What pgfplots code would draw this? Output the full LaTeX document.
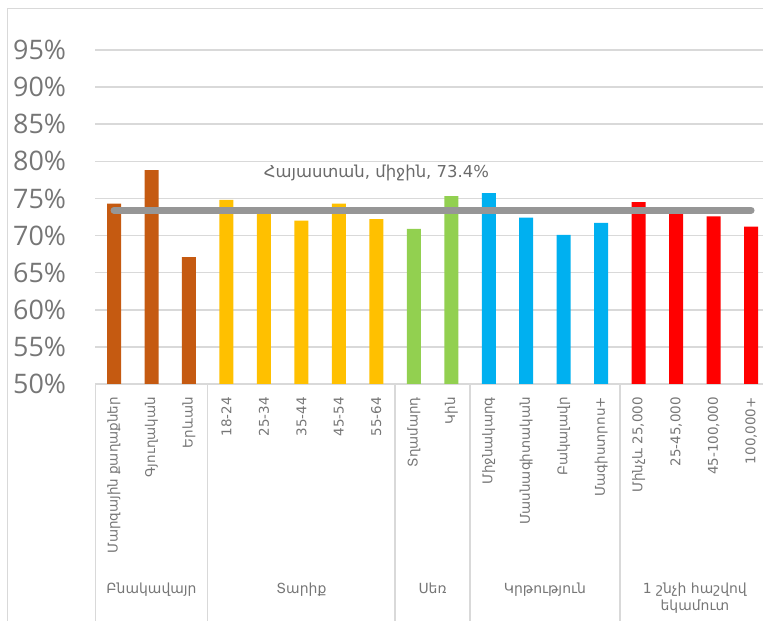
\documentclass[border=0pt]{standalone}
\usepackage{pgfplots}
\pgfplotsset{compat=1.18}
\usepackage{fontspec}
\setmainfont{DejaVu Sans}
\newfontfamily\numfont{Open Sans}

\definecolor{txtgray}{HTML}{767676}
\definecolor{lblgray}{HTML}{6A6A6A}
\definecolor{gridgray}{HTML}{D9D9D9}
\definecolor{avggray}{HTML}{969696}
\definecolor{cbrown}{HTML}{C55A11}
\definecolor{cyellow}{HTML}{FFC000}
\definecolor{cgreen}{HTML}{92D050}
\definecolor{cblue}{HTML}{00B0F0}
\definecolor{cred}{HTML}{FF0000}

\begin{document}
\begin{tikzpicture}
\path[use as bounding box] (0,0) rectangle (763bp,621bp);
% chart frame
\draw[gridgray, line width=1bp] (7bp,-10bp) -- (7bp,612bp) -- (790bp,612bp);
\begin{axis}[
  at={(95.3bp,237bp)}, anchor=south west,
  scale only axis, width=674.5bp, height=334bp,
  xmin=-0.5, xmax=17.5, ymin=50, ymax=95,
  clip mode=individual,
  axis x line*=bottom, axis y line*=left,
  x axis line style={draw=gridgray, line width=1.5bp, -},
  y axis line style={draw=none},
  major tick length=0pt,
  ymajorgrids, grid style={gridgray, line width=1.5bp},
  ytick={50,55,...,95},
  /pgf/number format/assume math mode=true,
  yticklabel={\pgfmathprintnumber{\tick}\%},
  yticklabel style={font=\numfont\fontsize{27}{27}\selectfont, text=txtgray,
    anchor=east, inner sep=0pt, xshift=-29bp},
  xtick={0,...,17},
  xticklabels={Մարզային քաղաքներ, Գյուղական, Երևան, 18-24, 25-34, 35-44, 45-54, 55-64,
    Տղամարդ, Կին, Միջնակարգ, Մասնագիտական, Բակալավր, Մագիստրոս+,
    {Մինչև 25,000}, {25-45,000}, {45-100,000}, {100,000+}},
  xticklabel style={yshift=-13bp, rotate=90, anchor=east, inner sep=0pt,
    font=\fontsize{13.5}{13.5}\selectfont, text=txtgray},
]
% Բնակավայր
\addplot[ybar, bar width=14bp, bar shift=0pt, fill=cbrown, draw=none]
  coordinates {(0,74.3) (1,78.8) (2,67.1)};
% Տարիք
\addplot[ybar, bar width=14bp, bar shift=0pt, fill=cyellow, draw=none]
  coordinates {(3,74.8) (4,73.3) (5,72.0) (6,74.3) (7,72.2)};
% Սեռ
\addplot[ybar, bar width=14bp, bar shift=0pt, fill=cgreen, draw=none]
  coordinates {(8,70.9) (9,75.3)};
% Կրթություն
\addplot[ybar, bar width=14bp, bar shift=0pt, fill=cblue, draw=none]
  coordinates {(10,75.7) (11,72.4) (12,70.1) (13,71.7)};
% 1 շնչի հաշվով եկամուտ
\addplot[ybar, bar width=14bp, bar shift=0pt, fill=cred, draw=none]
  coordinates {(14,74.5) (15,73.5) (16,72.6) (17,71.2)};
% national average
\addplot[avggray, line width=7bp, line cap=round, mark=none]
  coordinates {(0,73.4) (17,73.4)};
\node[text=lblgray, font=\fontsize{16.5}{16.5}\selectfont] at (axis cs:7,78.4)
  {Հայաստան, միջին, 73.4\%};
% group separators below the axis
\foreach \s in {-0.5,2.5,7.5,9.5,13.5}{
  \edef\tmp{\noexpand\draw[gridgray, line width=1.5bp] (axis cs:\s,50) -- ([yshift=-245bp]axis cs:\s,50);}
  \tmp
}
% group names
\begin{scope}[every node/.style={text=txtgray, font=\fontsize{14}{17}\selectfont,
    anchor=north, align=center}]
\node at ([yshift=-195bp]axis cs:1,50) {Բնակավայր};
\node at ([yshift=-195bp]axis cs:5,50) {Տարիք};
\node at ([yshift=-195bp]axis cs:8.5,50) {Սեռ};
\node at ([yshift=-195bp]axis cs:11.5,50) {Կրթություն};
\node at ([yshift=-195bp]axis cs:15.5,50) {1 շնչի հաշվով\\եկամուտ};
\end{scope}
\end{axis}
\end{tikzpicture}
\end{document}
